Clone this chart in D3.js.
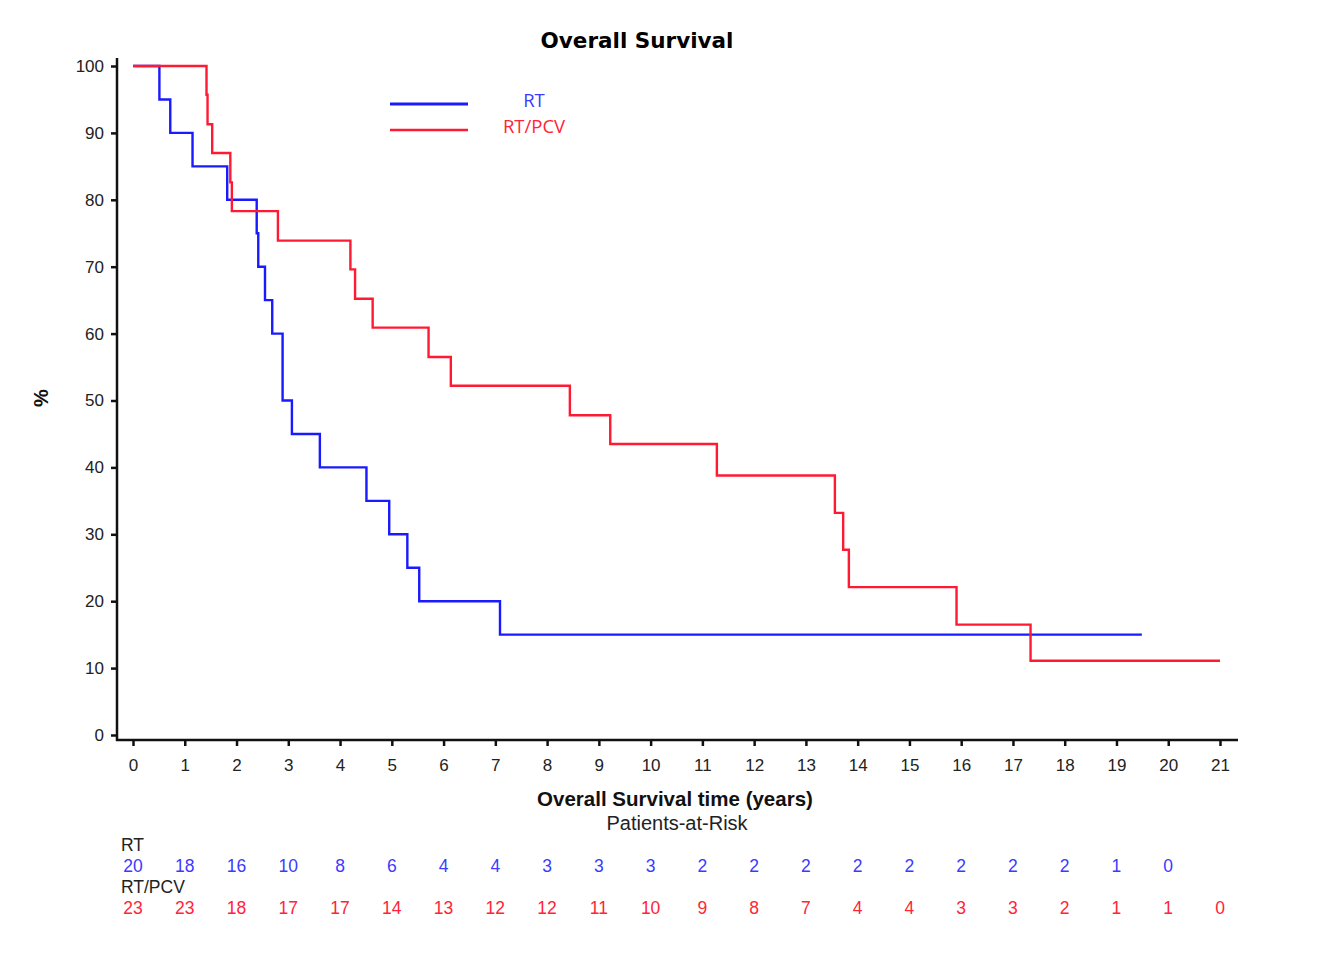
<!DOCTYPE html>
<meta charset="utf-8">
<script src="https://cdnjs.cloudflare.com/ajax/libs/d3/7.8.5/d3.min.js"></script>
<style>
  body { margin: 0; background: #fff; }
  text { font-family: "Liberation Sans", Arial, sans-serif; }
</style>
<body>
<script>

// survival curves (years, % surviving)
var rtTime  = [0, 0.51, 0.72, 1.15, 1.82, 2.39, 2.42, 2.55, 2.69, 2.89, 3.07, 3.61, 4.51, 4.95, 5.30, 5.53, 7.09, 19.49];
var rtSurv  = [100, 95, 90, 85, 80, 75, 70, 65, 60, 50, 45, 40, 35, 30, 25, 20, 15, 15];
var pcvTime = [0, 1.42, 1.44, 1.53, 1.88, 1.91, 2.80, 4.20, 4.29, 4.63, 5.71, 6.14, 8.44, 9.22, 11.28, 13.56, 13.72, 13.83, 15.91, 17.34, 21];
var pcvSurv = [100, 95.7, 91.3, 87.0, 82.6, 78.3, 73.9, 69.6, 65.2, 60.9, 56.5, 52.2, 47.8, 43.5, 38.8, 33.2, 27.7, 22.1, 16.5, 11.1, 11.1];

// patients at risk per year
var xTicks  = d3.range(0, 22);
var yTicks  = [0, 10, 20, 30, 40, 50, 60, 70, 80, 90, 100];
var rtRisk  = [20, 18, 16, 10, 8, 6, 4, 4, 3, 3, 3, 2, 2, 2, 2, 2, 2, 2, 2, 1, 0];
var pcvRisk = [23, 23, 18, 17, 17, 14, 13, 12, 12, 11, 10, 9, 8, 7, 4, 4, 3, 3, 2, 1, 1, 0];

var blue = "#1a1aff", red = "#ff1a33";
var blueTxt = "#3b3bff", redTxt = "#ff2438";

var svg = d3.select("body").append("svg")
  .attr("width", 1322)
  .attr("height", 960);

var x = d3.scaleLinear().domain([0, 21]).range([133, 1220]);
var y = d3.scaleLinear().domain([0, 100]).range([735, 66]);

// axes
var yAxis = svg.append("g")
  .attr("transform", "translate(117,0)")
  .call(d3.axisLeft(y).tickValues(yTicks).tickSize(6).tickPadding(7).tickSizeOuter(0));
var xAxis = svg.append("g")
  .attr("transform", "translate(0,740)")
  .call(d3.axisBottom(x).tickValues(xTicks).tickSize(6).tickPadding(13).tickSizeOuter(0));

[yAxis, xAxis].forEach(function(g) {
  g.select(".domain").remove();
  g.selectAll(".tick line").attr("stroke", "#111").attr("stroke-width", 2.5);
  g.selectAll(".tick text").attr("fill", "#222").style("font-size", "17px")
    .style("font-family", "'Liberation Sans', Arial, sans-serif");
});

svg.append("line")
  .attr("x1", 117).attr("x2", 117).attr("y1", 58).attr("y2", 741)
  .attr("stroke", "#111").attr("stroke-width", 2.5);
svg.append("line")
  .attr("x1", 116).attr("x2", 1238).attr("y1", 740).attr("y2", 740)
  .attr("stroke", "#111").attr("stroke-width", 2.5);

// step curves (RT/PCV drawn on top)
var line = d3.line()
  .x(function(d) { return x(d[0]); })
  .y(function(d) { return y(d[1]); })
  .curve(d3.curveStepAfter);

svg.append("path")
  .datum(d3.zip(rtTime, rtSurv))
  .attr("d", line)
  .attr("fill", "none").attr("stroke", blue).attr("stroke-width", 2.4);

svg.append("path")
  .datum(d3.zip(pcvTime, pcvSurv))
  .attr("d", line)
  .attr("fill", "none").attr("stroke", red).attr("stroke-width", 2.4);

// title and labels
svg.append("text")
  .attr("x", 637).attr("y", 48)
  .style("text-anchor", "middle")
  .style("font-family", "'DejaVu Sans', Verdana, sans-serif")
  .style("font-weight", "bold").style("font-size", "21.5px")
  .text("Overall Survival");

svg.append("text")
  .attr("transform", "translate(48,398) rotate(-90)")
  .style("text-anchor", "middle")
  .style("font-weight", "bold").style("font-size", "20px")
  .attr("fill", "#111")
  .text("%");

svg.append("text")
  .attr("x", 675).attr("y", 806)
  .style("text-anchor", "middle")
  .style("font-weight", "bold").style("font-size", "20.5px")
  .attr("fill", "#111")
  .text("Overall Survival time (years)");

svg.append("text")
  .attr("x", 677).attr("y", 830)
  .style("text-anchor", "middle")
  .style("font-size", "20px")
  .attr("fill", "#222")
  .text("Patients-at-Risk");

// legend
var legend = [
  {name: "RT", color: blue, txt: blueTxt, y: 104, w: 3},
  {name: "RT/PCV", color: red, txt: redTxt, y: 130, w: 2.4}
];
legend.forEach(function(d) {
  svg.append("line")
    .attr("x1", 390).attr("x2", 468).attr("y1", d.y).attr("y2", d.y)
    .attr("stroke", d.color).attr("stroke-width", d.w);
  svg.append("text")
    .attr("x", 534).attr("y", d.y + 3)
    .style("text-anchor", "middle")
    .style("font-family", "'Open Sans', sans-serif")
    .style("font-size", "18.5px")
    .attr("fill", d.txt)
    .text(d.name);
});

// risk table
svg.append("text")
  .attr("x", 121).attr("y", 851)
  .style("font-size", "17.5px").attr("fill", "#222")
  .text("RT");
svg.selectAll(".riskRT").data(rtRisk).enter().append("text")
  .attr("class", "riskRT")
  .attr("x", function(d, i) { return x(xTicks[i]); })
  .attr("y", 872)
  .style("text-anchor", "middle").style("font-size", "17.5px")
  .attr("fill", blueTxt)
  .text(function(d) { return d; });

svg.append("text")
  .attr("x", 121).attr("y", 893)
  .style("font-size", "17.5px").attr("fill", "#222")
  .text("RT/PCV");
svg.selectAll(".riskPCV").data(pcvRisk).enter().append("text")
  .attr("class", "riskPCV")
  .attr("x", function(d, i) { return x(xTicks[i]); })
  .attr("y", 914)
  .style("text-anchor", "middle").style("font-size", "17.5px")
  .attr("fill", redTxt)
  .text(function(d) { return d; });

</script>
</body>
</html>
